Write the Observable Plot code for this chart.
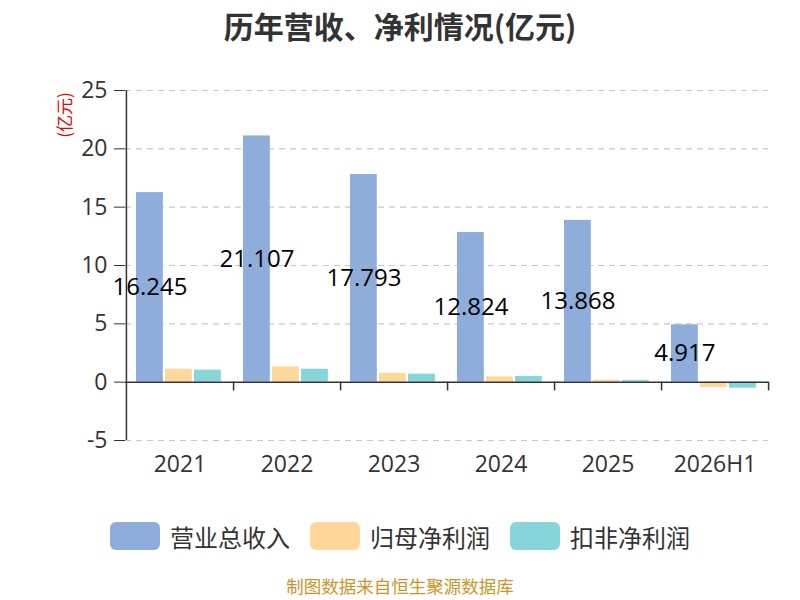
<!DOCTYPE html>
<html>
<head>
<meta charset="utf-8">
<script src="https://cdn.jsdelivr.net/npm/d3@7"></script>
<script src="https://cdn.jsdelivr.net/npm/@observablehq/plot@0.6"></script>
<style>
  body { margin: 0; width: 800px; height: 600px; background: #fff; font-family: "Open Sans", "Noto Sans CJK SC", sans-serif; position: relative; overflow: hidden; }
  #title { height: 50px; line-height: 50px; text-align: center; font-size: 30px; font-weight: bold; color: #333; font-family: "Noto Sans CJK SC", sans-serif; }
  #chart { height: 440px; position: relative; }
  #ylabel { position: absolute; left: 63px; top: 115px; transform: translate(-50%, -50%) rotate(-90deg); color: #e00; font-size: 17px; font-family: "Noto Sans CJK SC", sans-serif; white-space: nowrap; }
  #legend { display: flex; justify-content: center; align-items: center; margin-top: 32px; height: 28px; font-family: "Noto Sans CJK SC", sans-serif; font-size: 24px; color: #333; }
  .item { display: flex; align-items: center; margin: 0 10px; }
  .sw { width: 50px; height: 28px; border-radius: 6px; margin-right: 10px; }
  #caption { position: absolute; top: 576px; left: 0; width: 800px; height: 20px; line-height: 20px; text-align: center; font-size: 17.5px; color: #c9962b; font-family: "Noto Sans CJK SC", sans-serif; }
</style>
</head>
<body>
<div id="title">历年营收、净利情况(亿元)</div>
<div id="chart"></div>
<div id="ylabel">(亿元)</div>
<div id="legend"></div>
<div id="caption">制图数据来自恒生聚源数据库</div>
<script>
const years = ["2021", "2022", "2023", "2024", "2025", "2026H1"];
const revenue = [16.245, 21.107, 17.793, 12.824, 13.868, 4.917];
const netProfit = [1.11, 1.31, 0.75, 0.45, 0.17, -0.46];
const deductedProfit = [1.03, 1.11, 0.69, 0.48, 0.15, -0.52];
const seriesNames = ["营业总收入", "归母净利润", "扣非净利润"];
const seriesColors = ["#8eaddb", "#ffd899", "#86d5d8"];
const yTicks = [-5, 0, 5, 10, 15, 20, 25];

const seriesValues = [revenue, netProfit, deductedProfit];
const rows = seriesNames.map((name, s) => years.map((year, i) => ({year, series: name, value: seriesValues[s][i]})));

const W = 800, H = 440, ML = 125, MR = 32, MT = 40, MB = 50;
const bw = (W - ML - MR) / years.length;
const barW = 27, gap = 2, pad = 10;

const barMarks = rows.map((data, s) => {
  const left = pad + s * (barW + gap);
  return Plot.barY(data, {
    x: "year", y: "value", fill: seriesColors[s],
    insetLeft: left, insetRight: bw - left - barW
  });
});

const chart = Plot.plot({
  width: W, height: H,
  marginLeft: ML, marginRight: MR, marginTop: MT, marginBottom: MB,
  style: {fontSize: "23px", fontFamily: "Open Sans, Noto Sans CJK SC, sans-serif", color: "#333", background: "transparent"},
  x: {domain: years, padding: 0, tickSize: 0, tickPadding: 15, label: null},
  y: {domain: [yTicks[0], yTicks[yTicks.length - 1]], ticks: yTicks, tickFormat: d => String(d), tickSize: 11, tickPadding: 7, label: null},
  marks: [
    Plot.ruleY(yTicks.filter(d => d !== 0), {stroke: "#c8c8c8", strokeWidth: 1.2, strokeDasharray: "6,5"}),
    ...barMarks,
    Plot.ruleY([0], {stroke: "#333", strokeWidth: 1.5}),
    Plot.ruleX([years[0]], {dx: -bw / 2, y1: yTicks[0], y2: yTicks[yTicks.length - 1], stroke: "#333", strokeWidth: 1.5}),
    Plot.ruleX(years, {dx: bw / 2, y1: 0, y2: -0.75, stroke: "#333", strokeWidth: 1.5}),
    Plot.text(rows[0], {
      x: "year", y: d => d.value / 2, text: d => d.value.toFixed(3),
      dx: pad + barW / 2 - bw / 2, fill: "#000", fontSize: 24
    })
  ]
});
document.getElementById("chart").appendChild(chart);

const legend = document.getElementById("legend");
seriesNames.forEach((name, i) => {
  const item = document.createElement("div");
  item.className = "item";
  const sw = document.createElement("div");
  sw.className = "sw";
  sw.style.background = seriesColors[i];
  const label = document.createElement("span");
  label.textContent = name;
  item.appendChild(sw);
  item.appendChild(label);
  legend.appendChild(item);
});
</script>
</body>
</html>
